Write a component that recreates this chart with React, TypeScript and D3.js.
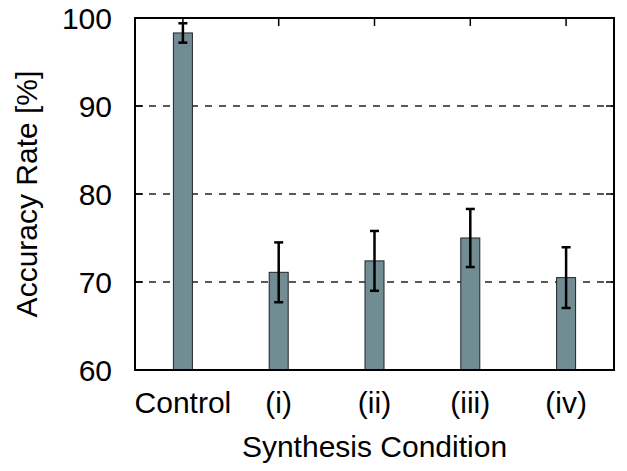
import React from 'react';
import * as d3 from 'd3';

const categories = ['Control', '(i)', '(ii)', '(iii)', '(iv)'];
const accuracy = [98.3, 71.1, 72.4, 75.0, 70.5];
const errors = [1.1, 3.4, 3.4, 3.3, 3.45];
const yTicks = [60, 70, 80, 90, 100];

const width = 627;
const height = 471;
const margin = { top: 18, right: 13, bottom: 101, left: 135 };

export default function App() {
  const innerW = width - margin.left - margin.right;
  const innerH = height - margin.top - margin.bottom;

  const x = d3.scaleBand().domain(categories).range([0, innerW]).paddingInner(0).paddingOuter(0);
  const y = d3.scaleLinear().domain([60, 100]).range([innerH, 0]);
  const barW = 19;
  const font = 'Liberation Sans, Arial, sans-serif';
  const fs = 30;

  return (
    <svg width={width} height={height} style={{ position: 'absolute', left: 0, top: 0 }}>
      <rect width={width} height={height} fill="#fff" />
      <g transform={`translate(${margin.left},${margin.top})`}>
        {yTicks.filter(t => t > 60 && t < 100).map(t => (
          <line key={'g' + t} x1={0} x2={innerW} y1={y(t)} y2={y(t)}
            stroke="#222" strokeWidth={1.3} strokeDasharray="7,7" />
        ))}
        {yTicks.map(t => (
          <g key={'t' + t}>
            <line x1={0} x2={8} y1={y(t)} y2={y(t)} stroke="#000" strokeWidth={1.5} />
            <line x1={innerW - 8} x2={innerW} y1={y(t)} y2={y(t)} stroke="#000" strokeWidth={1.5} />
            <text x={-23} y={y(t)} dy="0.36em" textAnchor="end" fontFamily={font} fontSize={fs}>{t}</text>
          </g>
        ))}
        {categories.map((c, i) => {
          const cx = (x(c) as number) + x.bandwidth() / 2;
          const v = accuracy[i];
          const e = errors[i];
          return (
            <g key={c}>
              <line x1={cx} x2={cx} y1={0} y2={8} stroke="#000" strokeWidth={1.5} />
              <rect x={cx - barW / 2} y={y(v)} width={barW} height={innerH - y(v)}
                fill="#728c93" stroke="#222" strokeWidth={1} />
              <line x1={cx} x2={cx} y1={y(v + e)} y2={y(v - e)} stroke="#000" strokeWidth={2.5} />
              <line x1={cx - 4.5} x2={cx + 4.5} y1={y(v + e)} y2={y(v + e)} stroke="#000" strokeWidth={2.5} />
              <line x1={cx - 4.5} x2={cx + 4.5} y1={y(v - e)} y2={y(v - e)} stroke="#000" strokeWidth={2.5} />
              <text x={cx} y={innerH + 43} textAnchor="middle" fontFamily={font} fontSize={fs}>{c}</text>
            </g>
          );
        })}
        <rect x={0} y={0} width={innerW} height={innerH} fill="none" stroke="#000" strokeWidth={2} />
        <text x={innerW / 2} y={innerH + 87} textAnchor="middle" fontFamily={font} fontSize={fs}>Synthesis Condition</text>
      </g>
      <text transform={`translate(37,194) rotate(-90)`} textAnchor="middle" fontFamily={font} fontSize={fs}>Accuracy Rate [%]</text>
    </svg>
  );
}
